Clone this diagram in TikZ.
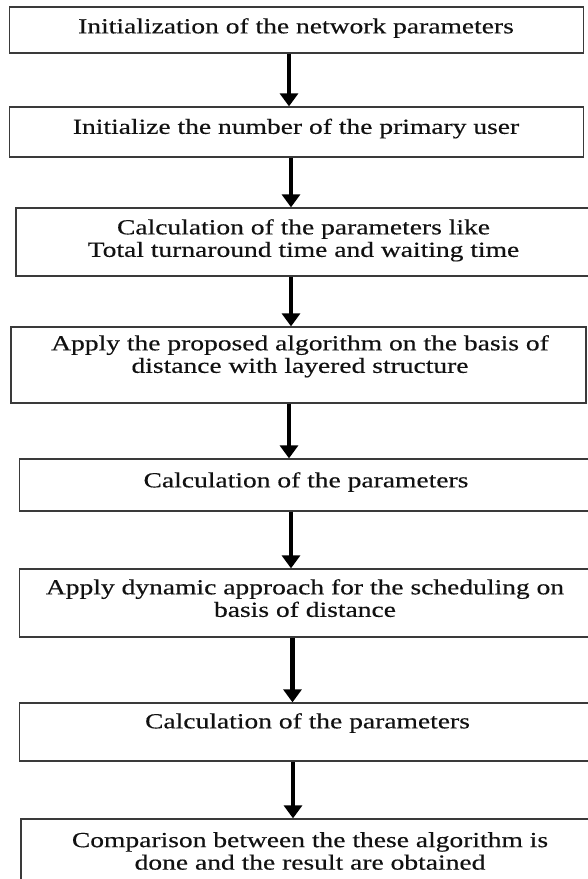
\documentclass[tikz,border=0pt]{standalone}
\usepackage{fontspec}
\setmainfont{Liberation Serif}[FakeStretch=1.28,FakeBold=0.4]
\usetikzlibrary{arrows.meta}
\definecolor{boxline}{HTML}{3A3A3A}
\definecolor{txtcol}{HTML}{111111}
\tikzset{
  flowbox/.style={draw=boxline, line width=1.3pt, rectangle, inner sep=0pt},
  flowtxt/.style={anchor=north, inner sep=0pt, align=center, text=txtcol, font=\fontsize{21.5}{22.5}\selectfont},
  flowarr/.style={line width=4.5pt, -{Triangle[width=18pt,length=13pt]}, black},
}
\begin{document}
\begin{tikzpicture}[x=1pt,y=-1pt]
\useasboundingbox (0,0) rectangle (588,879);
\clip (0,0) rectangle (588,879);
% boxes
\node[flowbox, minimum width=574pt, minimum height=46pt] (b1) at (296.4,30) {};
\node[flowbox, minimum width=574pt, minimum height=50pt] (b2) at (296.4,132) {};
\node[flowbox, minimum width=576pt, minimum height=68pt] (b3) at (304,242) {};
\node[flowbox, minimum width=575pt, minimum height=76pt] (b4) at (298.5,365) {};
\node[flowbox, minimum width=574.5pt, minimum height=52pt] (b5) at (306.75,485) {};
\node[flowbox, minimum width=574.5pt, minimum height=68pt] (b6) at (306.75,603) {};
\node[flowbox, minimum width=574.5pt, minimum height=58pt] (b7) at (306.75,732) {};
\node[flowbox, minimum width=574pt, minimum height=82pt] (b8) at (308,860) {};
% texts
\node[flowtxt] (t1) at (296,18) {Initialization of the network parameters};
\node[flowtxt] (t2) at (296,118.5) {Initialize the number of the primary user};
\node[flowtxt] (t3) at (303.5,219) {Calculation of the parameters like\\Total turnaround time and waiting time};
\node[flowtxt] (t4) at (300,335) {Apply the proposed algorithm on the basis of\\distance with layered structure};
\node[flowtxt] (t5) at (306,472) {Calculation of the parameters};
\node[flowtxt] (t6) at (305,579) {Apply dynamic approach for the scheduling on\\basis of distance};
\node[flowtxt] (t7) at (307.5,713) {Calculation of the parameters};
\node[flowtxt] (t8) at (310,832) {Comparison between the these algorithm is\\done and the result are obtained};
% arrow x positions
\coordinate (a1) at (289,0);
\coordinate (a2) at (291,0);
\coordinate (a3) at (291,0);
\coordinate (a4) at (289,0);
\coordinate (a5) at (291,0);
\coordinate (a6) at (292.5,0);
\coordinate (a7) at (293,0);
\draw[flowarr] (b1.south -| a1) -- (b2.north -| a1);
\draw[flowarr] (b2.south -| a2) -- (b3.north -| a2);
\draw[flowarr] (b3.south -| a3) -- (b4.north -| a3);
\draw[flowarr] (b4.south -| a4) -- (b5.north -| a4);
\draw[flowarr] (b5.south -| a5) -- (b6.north -| a5);
\draw[flowarr] (b6.south -| a6) -- (b7.north -| a6);
\draw[flowarr] (b7.south -| a7) -- (b8.north -| a7);
\end{tikzpicture}
\end{document}
